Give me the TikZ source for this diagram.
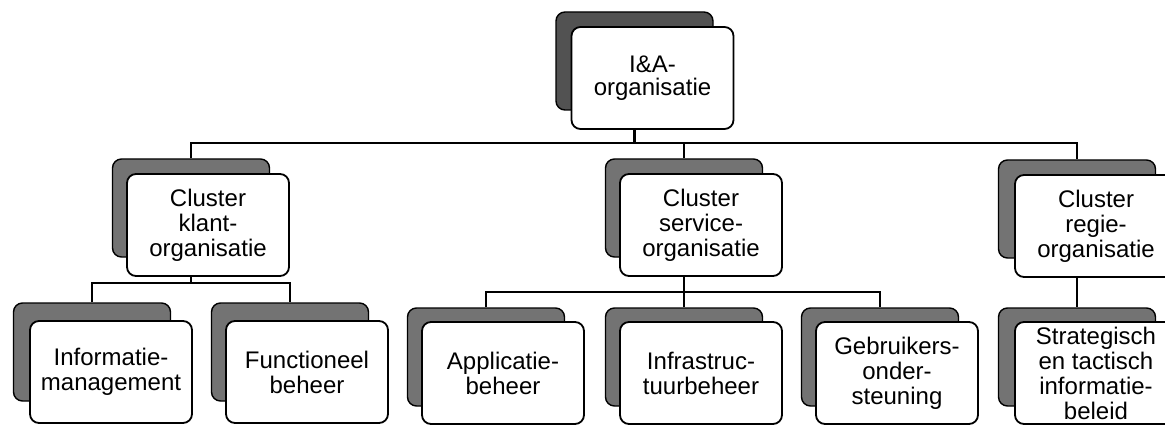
\documentclass[tikz,border=0pt]{standalone}
\usepackage{fontspec}
\setmainfont{Liberation Sans}
\begin{document}
\begin{tikzpicture}[x=1pt,y=1pt,
  backbox/.style={draw=black, line width=1.4pt, fill=black!55, rounded corners=9pt,
    minimum width=157pt, minimum height=98pt, inner sep=0pt},
  topback/.style={backbox, fill=black!68},
  frontbox/.style={draw=black, line width=1.8pt, fill=white, rounded corners=9pt,
    minimum width=162pt, minimum height=102pt, inner sep=2pt, align=center,
    font=\fontsize{24}{25}\selectfont},
  link/.style={draw=black, line width=2.2pt}]
\useasboundingbox (0,0) rectangle (1165,-425);
\clip (0,0) rectangle (1165,-425);

% shadow cards behind each unit
\node[topback]  (topb) at (634.5,-61) {};
\node[backbox]  (c1b)  at (191,-208) {};
\node[backbox]  (c2b)  at (684,-208) {};
\node[backbox]  (c3b)  at (1077,-209) {};
\node[backbox]  (l1b)  at (92,-352) {};
\node[backbox]  (l2b)  at (290,-352) {};
\node[backbox]  (m1b)  at (486,-357) {};
\node[backbox]  (m2b)  at (684,-357) {};
\node[backbox]  (m3b)  at (880,-357) {};
\node[backbox]  (r1b)  at (1077,-357) {};

% front cards with the unit names
\node[frontbox, font=\fontsize{24}{23}\selectfont] (topf) at (652.5,-78) {I\&A-\\organisatie};
\node[frontbox] (c1f) at (208,-225) {Cluster\\klant-\\organisatie};
\node[frontbox] (c2f) at (701,-225) {Cluster\\service-\\organisatie};
\node[frontbox] (c3f) at (1096,-226) {Cluster\\regie-\\organisatie};
\node[frontbox] (l1f) at (111,-372) {Informatie-\\management};
\node[frontbox] (l2f) at (307,-372) {Functioneel\\beheer};
\node[frontbox] (m1f) at (503,-373) {Applicatie-\\beheer};
\node[frontbox] (m2f) at (701,-373) {Infrastruc-\\tuurbeheer};
\node[frontbox] (m3f) at (897,-373) {Gebruikers-\\onder-\\steuning};
\node[frontbox] (r1f) at (1096,-373) {Strategisch\\en tactisch\\informatie-\\beleid};

% bus lines
\coordinate (bus0) at (0,-143);
\coordinate (bus1) at (0,-283);
\coordinate (bus2) at (0,-292);

% top level to clusters
\draw[link] (topb |- topf.south) -- (topb |- bus0);
\draw[link] (c1b.north) |- (bus0 -| c3b) -- (c3b.north);
\draw[link] (c2b.north) -- (c2b |- bus0);

% customer cluster
\draw[link] (c1b |- c1f.south) -- (c1b |- bus1);
\draw[link] (l1b.north) |- (bus1 -| l2b) -- (l2b.north);

% service cluster
\draw[link] (c2b |- c2f.south) -- (c2b |- bus2);
\draw[link] (m1b.north) |- (bus2 -| m3b) -- (m3b.north);
\draw[link] (m2b.north) -- (m2b |- bus2);

% steering cluster
\draw[link] (c3b |- c3f.south) -- (r1b.north);
\end{tikzpicture}
\end{document}
